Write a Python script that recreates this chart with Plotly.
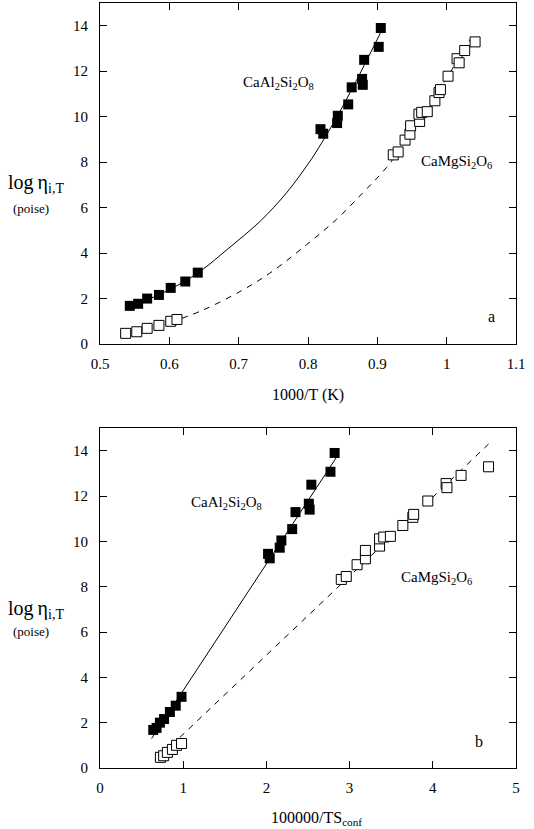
import plotly.graph_objects as go

# ---- panel a: log viscosity vs 1000/T ----
an_T_x = [0.543, 0.555, 0.568, 0.585, 0.602, 0.623, 0.641,
          0.818, 0.822, 0.843, 0.842, 0.858, 0.863, 0.878, 0.879, 0.881, 0.902, 0.905]
an_T_y = [1.68, 1.77, 2.00, 2.16, 2.47, 2.75, 3.14,
          9.45, 9.25, 10.04, 9.72, 10.54, 11.29, 11.66, 11.40, 12.50, 13.07, 13.90]

di_T_x = [0.537, 0.553, 0.568, 0.585, 0.602, 0.611,
          0.923, 0.930, 0.940, 0.947, 0.948, 0.961, 0.960, 0.964, 0.972, 0.983,
          0.989, 0.991, 1.002, 1.015, 1.018, 1.026, 1.041]
di_T_y = [0.47, 0.54, 0.69, 0.82, 1.00, 1.08,
          8.32, 8.45, 8.97, 9.23, 9.60, 9.79, 10.11, 10.19, 10.22, 10.70,
          11.06, 11.19, 11.78, 12.55, 12.37, 12.91, 13.29]

# fitted curves (panel a)
an_fit_T_x = [0.540, 0.580, 0.620, 0.649, 0.683, 0.731, 0.769, 0.798, 0.8125, 0.840, 0.870, 0.908]
an_fit_T_y = [1.62, 2.10, 2.72, 3.30, 4.15, 5.40, 6.65, 7.83, 8.49, 9.90, 11.60, 13.90]
di_fit_T_x = [0.618, 0.649, 0.702, 0.745, 0.798, 0.841, 0.880, 0.913, 0.950, 0.990, 1.035]
di_fit_T_y = [1.13, 1.50, 2.31, 3.12, 4.37, 5.48, 6.68, 7.76, 9.30, 11.20, 13.45]

# ---- panel b: log viscosity vs 100000/(T Sconf) ----
an_S_x = [0.64, 0.68, 0.72, 0.77, 0.84, 0.91, 0.98,
          2.02, 2.04, 2.18, 2.16, 2.31, 2.35, 2.51, 2.52, 2.54, 2.77, 2.82]
an_S_y = an_T_y

di_S_x = [0.726, 0.765, 0.81, 0.87, 0.92, 0.98,
          2.90, 2.96, 3.09, 3.19, 3.19, 3.36, 3.36, 3.41, 3.49, 3.64,
          3.76, 3.77, 3.94, 4.16, 4.17, 4.34, 4.67]
di_S_y = di_T_y

an_fit_S_x = [0.62, 2.85]
an_fit_S_y = [1.30, 13.75]
di_fit_S_x = [0.96, 4.67]
di_fit_S_y = [1.35, 14.29]

SERIF = "Liberation Serif"
BLACK = "#000000"

fig = go.Figure()

# curves first so markers sit on top
fig.add_trace(go.Scatter(x=an_fit_T_x, y=an_fit_T_y, mode="lines", line=dict(color=BLACK, width=1, shape="spline"),
                         xaxis="x", yaxis="y", hoverinfo="skip"))
fig.add_trace(go.Scatter(x=di_fit_T_x, y=di_fit_T_y, mode="lines",
                         line=dict(color=BLACK, width=1, dash="6px,6px", shape="spline"),
                         xaxis="x", yaxis="y", hoverinfo="skip"))
fig.add_trace(go.Scatter(x=an_fit_S_x, y=an_fit_S_y, mode="lines", line=dict(color=BLACK, width=1),
                         xaxis="x2", yaxis="y2", hoverinfo="skip"))
fig.add_trace(go.Scatter(x=di_fit_S_x, y=di_fit_S_y, mode="lines",
                         line=dict(color=BLACK, width=1, dash="6px,6px"),
                         xaxis="x2", yaxis="y2", hoverinfo="skip"))

filled = dict(symbol="square", size=10, color=BLACK, line=dict(color=BLACK, width=0))
hollow = dict(symbol="square", size=10, color="white", line=dict(color=BLACK, width=1))

fig.add_trace(go.Scatter(x=an_T_x, y=an_T_y, mode="markers", marker=filled, xaxis="x", yaxis="y"))
fig.add_trace(go.Scatter(x=di_T_x, y=di_T_y, mode="markers", marker=hollow, xaxis="x", yaxis="y"))
fig.add_trace(go.Scatter(x=an_S_x, y=an_S_y, mode="markers", marker=filled, xaxis="x2", yaxis="y2"))
fig.add_trace(go.Scatter(x=di_S_x, y=di_S_y, mode="markers", marker=hollow, xaxis="x2", yaxis="y2"))

axis_common = dict(showgrid=False, zeroline=False, showline=True, linecolor=BLACK, linewidth=1,
                   mirror="allticks", ticks="inside", ticklen=7, tickcolor=BLACK, tickwidth=1,
                   tickfont=dict(family=SERIF, size=15, color=BLACK))

fig.update_layout(
    width=534, height=829,
    margin=dict(l=100, r=18, t=3, b=61),
    paper_bgcolor="white", plot_bgcolor="white",
    showlegend=False,
    font=dict(family=SERIF, color=BLACK),
    xaxis=dict(axis_common, domain=[0, 1], range=[0.5, 1.1], dtick=0.1, tick0=0.5,
               anchor="y", ticklabelstandoff=6),
    yaxis=dict(axis_common, domain=[0.5542, 1], range=[0, 15], tickvals=[0, 2, 4, 6, 8, 10, 12, 14],
               anchor="x", ticklabelstandoff=8),
    xaxis2=dict(axis_common, domain=[0, 1], range=[0, 5], dtick=1, anchor="y2", ticklabelstandoff=6),
    yaxis2=dict(axis_common, domain=[0, 0.4444], range=[0, 15], tickvals=[0, 2, 4, 6, 8, 10, 12, 14],
                anchor="x2", ticklabelstandoff=8),
)

def note(text, x, y, xref, yref, size=15):
    fig.add_annotation(text=text, x=x, y=y, xref=xref, yref=yref, showarrow=False,
                       font=dict(family=SERIF, size=size, color=BLACK), xanchor="center", yanchor="middle")

# panel labels and series names
note("CaAl<sub>2</sub>Si<sub>2</sub>O<sub>8</sub>", 0.757, 11.5, "x", "y")
note("CaMgSi<sub>2</sub>O<sub>6</sub>", 1.014, 8.0, "x", "y")
note("a", 1.065, 1.2, "x", "y", size=16)
note("CaAl<sub>2</sub>Si<sub>2</sub>O<sub>8</sub>", 1.52, 11.7, "x2", "y2")
note("CaMgSi<sub>2</sub>O<sub>6</sub>", 4.04, 8.4, "x2", "y2")
note("b", 4.56, 1.16, "x2", "y2", size=16)

# axis titles
note("1000/T (K)", 0.5, 0.4876, "paper", "paper", size=16)
note("100000/TS<sub>conf</sub>", 0.52, -0.0654, "paper", "paper", size=16)
for y_main, y_unit in [(0.7634, 0.732), (0.2078, 0.1778)]:
    note("log\u2009\u03b7<sub>i,T</sub>", -0.154, y_main, "paper", "paper", size=20)
    note("(poise)", -0.166, y_unit, "paper", "paper", size=13)

fig.write_html("out.html")
